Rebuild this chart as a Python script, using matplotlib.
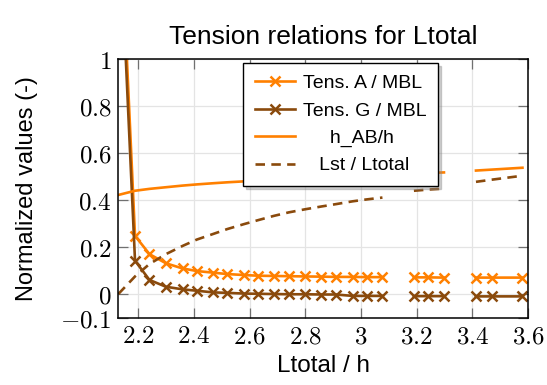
import numpy as np
import matplotlib
matplotlib.use("Agg")
import matplotlib.pyplot as plt
from matplotlib.ticker import FuncFormatter, FixedLocator

plt.rcParams["font.family"] = ["Liberation Sans", "DejaVu Sans"]
plt.rcParams["mathtext.fontset"] = "cm"

nan = np.nan

# Ltotal / h
ltotal_h = [2.128, 2.188, 2.240, 2.299, 2.359, 2.410, 2.469, 2.520, 2.580,
            2.631, 2.687, 2.741, 2.799, 2.858, 2.910, 2.970, 3.020, 3.077,
            3.135, 3.190, 3.241, 3.298, 3.355, 3.413, 3.469, 3.580]

tens_a = [1.80, 0.248, 0.170, 0.131, 0.109, 0.098, 0.091, 0.085, 0.081,
          0.078, 0.077, 0.076, 0.075, 0.074, 0.073, 0.073, 0.072, 0.072,
          nan, 0.071, 0.071, 0.070, nan, 0.070, 0.070, 0.070]

tens_g = [1.70, 0.142, 0.060, 0.031, 0.020, 0.014, 0.007, 0.005, 0.002,
          0.001, 0.000, -0.001, -0.001, -0.002, -0.002, -0.008, -0.008, -0.008,
          nan, -0.009, -0.009, -0.009, nan, -0.010, -0.010, -0.010]

h_ab = [0.422, 0.440, 0.448, 0.455, 0.462, 0.467, 0.472, 0.476, 0.480,
        0.484, 0.488, 0.492, 0.495, 0.498, 0.501, 0.504, 0.507, 0.510,
        nan, 0.514, 0.516, 0.518, nan, 0.526, 0.530, 0.538]

lst_ltotal = [0.000, 0.075, 0.128, 0.170, 0.205, 0.232, 0.256, 0.277, 0.298,
              0.315, 0.333, 0.348, 0.361, 0.373, 0.383, 0.395, 0.403, 0.411,
              nan, 0.440, 0.445, 0.449, nan, 0.478, 0.487, 0.504]

labels = ["Tens. A / MBL", "Tens. G / MBL", "h_AB/h", "Lst / Ltotal"]
x_ticks = [2.2, 2.4, 2.6, 2.8, 3.0, 3.2, 3.4, 3.6]
y_ticks = [-0.1, 0, 0.2, 0.4, 0.6, 0.8, 1.0]

ORANGE = "#ff8000"
BROWN = "#8a4a0c"

fig = plt.figure(figsize=(5.47, 3.85), dpi=100)
ax = fig.add_axes([0.2163, 0.1753, 0.7490, 0.6707])

mk = dict(marker="x", markersize=7.5, markeredgewidth=1.8)
ax.plot(ltotal_h, tens_a, color=ORANGE, lw=1.9, label=labels[0], **mk)
ax.plot(ltotal_h, tens_g, color=BROWN, lw=1.9, label=labels[1], **mk)
ax.plot(ltotal_h, h_ab, color=ORANGE, lw=1.9, label=labels[2])
ax.plot(ltotal_h, lst_ltotal, color=BROWN, lw=1.9, ls=(0, (3.6, 2.4)),
        label=labels[3])

ax.set_xlim(2.128, 3.6)
ax.set_ylim(-0.1, 1.0)
ax.xaxis.set_major_locator(FixedLocator(x_ticks))
ax.yaxis.set_major_locator(FixedLocator(y_ticks))
fmt = FuncFormatter(lambda v, p: r"$%g$" % round(v, 2))
ax.xaxis.set_major_formatter(fmt)
ax.yaxis.set_major_formatter(fmt)

ax.grid(True, color="#e4e4e4", lw=0.9)
ax.set_axisbelow(True)
ax.tick_params(direction="in", length=7, width=0.9, color="#707070",
               labelsize=18, top=True, right=True, pad=5)
for s in ax.spines.values():
    s.set_linewidth(1.1)
    s.set_color("black")

ax.set_title("Tension relations for Ltotal", fontsize=19, pad=11)
ax.set_xlabel("Ltotal / h", fontsize=17.5, labelpad=5)
ax.set_ylabel("Normalized values (-)", fontsize=17, labelpad=16)

# legend entries centred in their column
padded = ["Tens. A / MBL", "Tens. G / MBL", "     h_AB/h", "   Lst / Ltotal"]
handles, _ = ax.get_legend_handles_labels()
leg = ax.legend(handles, padded, loc="upper left", bbox_to_anchor=(0.304, 0.986),
                borderaxespad=0, fontsize=14, numpoints=1, handlelength=2.1,
                handletextpad=0.4, labelspacing=0.5, borderpad=0.6,
                fancybox=False, edgecolor="black", framealpha=1,
                shadow={"color": "#888888", "alpha": 0.4})
leg.get_frame().set_linewidth(1.0)

fig.savefig("out.png", dpi=100)
